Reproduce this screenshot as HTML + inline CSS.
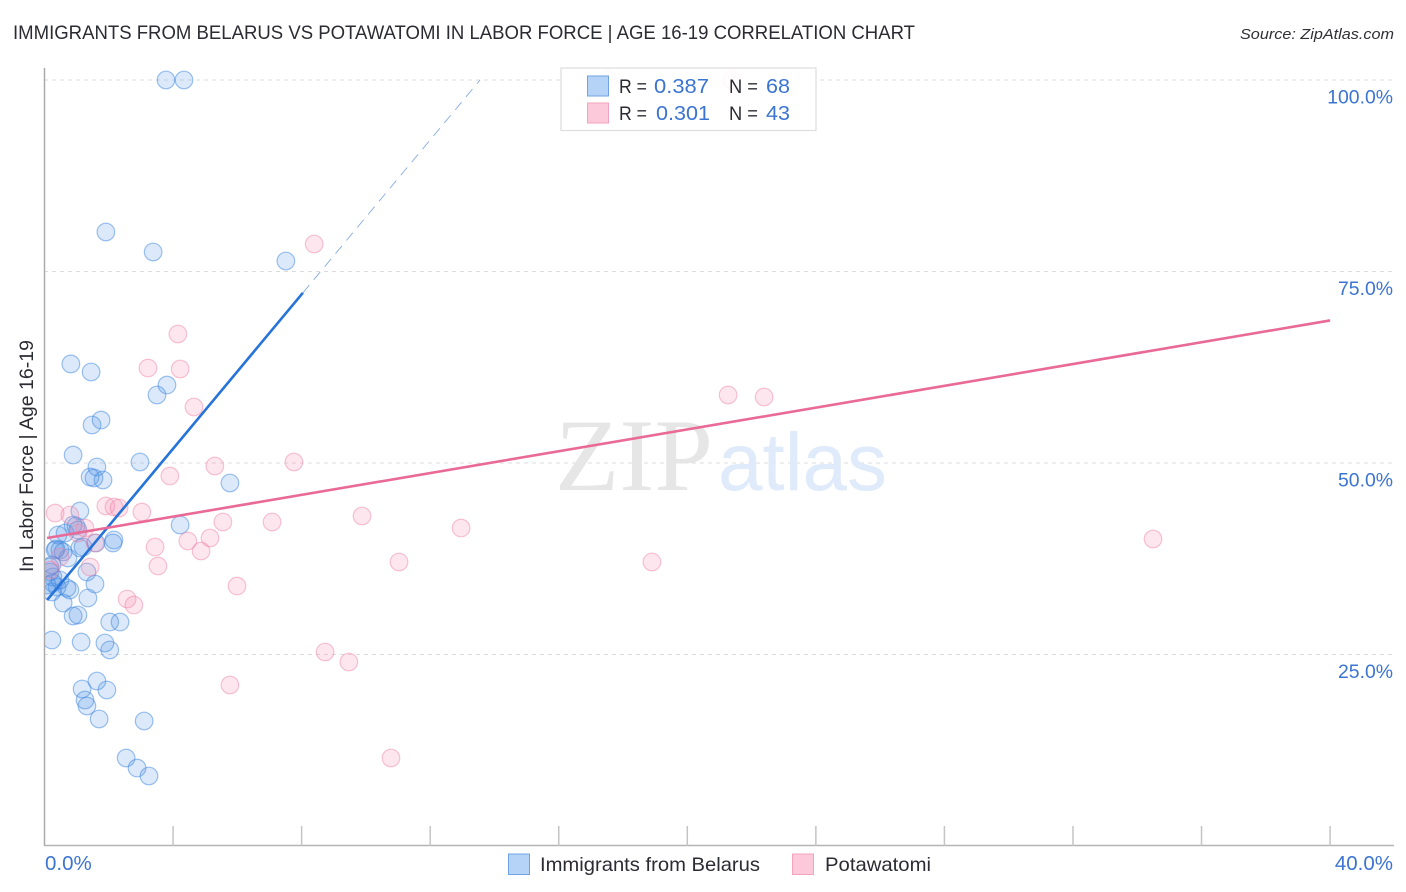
<!DOCTYPE html>
<html lang="en">
<head>
<meta charset="utf-8">
<title>Immigrants from Belarus vs Potawatomi in Labor Force | Age 16-19 Correlation Chart</title>
<style>
html,body{margin:0;padding:0;background:#fff;width:1406px;height:892px;overflow:hidden}
svg{display:block;font-family:"Liberation Sans",sans-serif}
</style>
</head>
<body>
<svg id="chart" xmlns="http://www.w3.org/2000/svg" width="1406" height="892" viewBox="0 0 1406 892">
  <defs>
    <clipPath id="plot-clip"><rect x="44.5" y="60" width="1350" height="786"/></clipPath>
  </defs>
  <text x="13" y="39" font-size="19.5" fill="#2b2b33" textLength="902" lengthAdjust="spacingAndGlyphs">IMMIGRANTS FROM BELARUS VS POTAWATOMI IN LABOR FORCE | AGE 16-19 CORRELATION CHART</text>
  <text x="1394" y="39" font-size="15" font-style="italic" fill="#2f2f37" text-anchor="end" textLength="154" lengthAdjust="spacingAndGlyphs">Source: ZipAtlas.com</text>
  <g id="grid"></g>
  <g>
    <text x="555" y="490" font-family="'Liberation Serif',serif" font-size="103" fill="#e6e6e6" textLength="158" lengthAdjust="spacingAndGlyphs">ZIP</text>
    <text x="718" y="490" font-size="82" fill="#dfeafa" textLength="169" lengthAdjust="spacingAndGlyphs">atlas</text>
  </g>
  <g clip-path="url(#plot-clip)">
    <g id="blue-points"></g>
    <g id="pink-points"></g>
  </g>
  <g id="trends"></g>
  <g id="axes">
    <line x1="44.5" y1="68" x2="44.5" y2="846" stroke="#aaaaaa" stroke-width="1.5"/>
    <line x1="44" y1="845.5" x2="1394" y2="845.5" stroke="#b4b4b4" stroke-width="1.5"/>
  </g>
  <g id="x-ticks"></g>
  <g id="y-labels"></g>
  <g id="x-labels"></g>
  <text transform="translate(33,572) rotate(-90)" font-size="19" fill="#2b2b33" textLength="232" lengthAdjust="spacingAndGlyphs">In Labor Force | Age 16-19</text>

  <g>
    <rect x="561" y="68" width="255" height="62.5" fill="#ffffff" fill-opacity="0.9" stroke="#dddddd" stroke-width="1.2"/>
    <rect x="587.5" y="76" width="21" height="20" fill="#b5d2f7" stroke="#6fa3e3" stroke-width="1"/>
    <rect x="587.5" y="103" width="21" height="20" fill="#fcc9da" stroke="#f3a3bd" stroke-width="1"/>
    <text x="619" y="93" font-size="19" fill="#2b2b33" textLength="28" lengthAdjust="spacingAndGlyphs">R =</text>
    <text x="654" y="93" font-size="20.5" fill="#3b74d1" textLength="55" lengthAdjust="spacingAndGlyphs">0.387</text>
    <text x="729" y="93" font-size="19" fill="#2b2b33" textLength="29" lengthAdjust="spacingAndGlyphs">N =</text>
    <text x="766" y="93" font-size="20.5" fill="#3b74d1" textLength="24" lengthAdjust="spacingAndGlyphs">68</text>
    <text x="619" y="120" font-size="19" fill="#2b2b33" textLength="28" lengthAdjust="spacingAndGlyphs">R =</text>
    <text x="656" y="120" font-size="20.5" fill="#3b74d1" textLength="54" lengthAdjust="spacingAndGlyphs">0.301</text>
    <text x="729" y="120" font-size="19" fill="#2b2b33" textLength="29" lengthAdjust="spacingAndGlyphs">N =</text>
    <text x="766" y="120" font-size="20.5" fill="#3b74d1" textLength="24" lengthAdjust="spacingAndGlyphs">43</text>
  </g>

  <g>
    <rect x="508.5" y="854" width="21" height="20.5" fill="#b5d2f7" stroke="#6fa3e3" stroke-width="1"/>
    <text x="540" y="871" font-size="19.5" fill="#2b2b33" textLength="220" lengthAdjust="spacingAndGlyphs">Immigrants from Belarus</text>
    <rect x="792.5" y="854" width="21" height="20.5" fill="#fcc9da" stroke="#f3a3bd" stroke-width="1"/>
    <text x="825" y="871" font-size="19.5" fill="#2b2b33" textLength="106" lengthAdjust="spacingAndGlyphs">Potawatomi</text>
  </g>
</svg>
<script>
const blueX = [3.78,4.34,1.91,3.38,7.51,0.82,1.45,3.50,3.81,1.48,1.76,0.89,1.63,2.97,1.42,1.54,1.82,5.77,4.22,1.10,0.89,0.98,0.42,0.64,1.04,1.10,0.33,0.48,0.58,0.73,1.60,2.16,2.13,0.17,0.17,0.26,0.26,0.39,0.23,0.70,1.32,1.57,0.79,1.35,0.58,0.89,1.04,2.03,2.35,0.23,1.14,1.88,2.03,1.63,1.17,1.94,1.26,1.32,1.70,3.10,2.54,2.88,3.25,0.36,1.20,0.23,0.48,0.08];
const blueY = [100,100,80.16,77.55,76.37,62.93,61.88,58.88,60.18,54.96,55.61,51.04,49.48,50.13,48.17,48.04,47.78,47.39,41.91,43.73,41.91,41.78,40.60,40.86,41.25,38.90,38.64,38.64,38.38,37.60,39.56,39.95,39.56,36.42,35.77,35.12,34.33,33.81,33.16,33.68,35.77,34.20,33.42,32.38,31.72,30.03,30.16,29.24,29.24,26.89,26.63,26.50,25.59,21.54,20.50,20.37,19.06,18.28,16.58,16.32,11.49,10.18,9.14,38.77,39.03,36.68,34.73,34.07];
const pinkX = [17.53,21.39,8.39,4.15,3.22,4.22,4.65,3.90,5.30,7.76,21.27,22.39,34.49,12.96,9.88,7.08,5.55,3.03,1.91,2.16,2.32,0.33,0.79,1.26,1.04,1.57,0.17,0.48,1.42,3.44,4.46,5.15,4.87,3.53,2.57,2.78,5.99,11.03,18.90,8.73,9.47,5.77,10.78];
const pinkY = [100,100,78.59,66.84,62.40,62.27,57.31,48.30,49.61,50.13,58.88,58.62,40.08,41.51,43.08,42.30,42.30,43.60,44.39,44.26,44.13,43.47,43.21,41.51,40.86,39.56,36.03,37.73,36.42,39.03,39.82,40.21,38.51,36.55,32.25,31.46,33.94,37.08,37.08,25.33,24.02,21.02,11.49];
const blueSlope = 5.04;
const blueIntercept = 31.7;
const blueSolidRange = [0.08, 8.04];
const blueDashEnd = 13.55;
const pinkSlope = 0.7115;
const pinkIntercept = 40.15;
const pinkRange = [0.08, 40];
const yTickValues = [100, 75, 50, 25];
const yTickLabels = ["100.0%", "75.0%", "50.0%", "25.0%"];
const xTickValues = [4, 8, 12, 16, 20, 24, 28, 32, 36, 40];
const xEdgeLabels = ["0.0%", "40.0%"];

const NS = "http://www.w3.org/2000/svg";
const xScale = v => 44.5 + v * 32.14;
const yScale = v => 846 - v * 7.66;

function make(tag, parent, attrs) {
  const el = document.createElementNS(NS, tag);
  for (const k in attrs) el.setAttribute(k, attrs[k]);
  parent.appendChild(el);
  return el;
}

const grid = document.getElementById("grid");
yTickValues.forEach(function (v) {
  const el = make("line", grid, {x1: 44, x2: 1394, y1: yScale(v), y2: yScale(v), stroke: "#dcdcdc", "stroke-width": 1, "stroke-dasharray": "4 4"});
  
  
});

const xTicks = document.getElementById("x-ticks");
xTickValues.forEach(function (v) {
  const el = make("line", xTicks, {x1: xScale(v), x2: xScale(v), y1: 826, y2: 846, stroke: "#c4c4c4", "stroke-width": 1.5});
  
  
});

const yLabels = document.getElementById("y-labels");
yTickValues.forEach(function (v, i) {
  const el = make("text", yLabels, {x: 1393, y: yScale(v) + 23.5, "text-anchor": "end", "font-size": 19.4, fill: "#3b74d1"});
  el.textContent = yTickLabels[i];
  
  
});

const xLabels = document.getElementById("x-labels");
const xLabel0 = make("text", xLabels, {x: 45, y: 870, "font-size": 20.5, fill: "#3b74d1"});
xLabel0.textContent = xEdgeLabels[0];


const xLabel1 = make("text", xLabels, {x: 1393, y: 870, "text-anchor": "end", "font-size": 20.5, fill: "#3b74d1"});
xLabel1.textContent = xEdgeLabels[1];



const bluePoints = document.getElementById("blue-points");
blueX.forEach(function (v, i) {
  const el = make("circle", bluePoints, {cx: xScale(v), cy: yScale(blueY[i]), r: 8.8, fill: "#4a90e8", "fill-opacity": 0.2, stroke: "#3d85dd", "stroke-opacity": 0.5, "stroke-width": 1.2});
  
  
});

const pinkPoints = document.getElementById("pink-points");
pinkX.forEach(function (v, i) {
  const el = make("circle", pinkPoints, {cx: xScale(v), cy: yScale(pinkY[i]), r: 8.8, fill: "#f78fb0", "fill-opacity": 0.22, stroke: "#ee7fa2", "stroke-opacity": 0.45, "stroke-width": 1.2});
  
  
});

const trends = document.getElementById("trends");
const blueAt = x => blueIntercept + blueSlope * x;
const pinkAt = x => pinkIntercept + pinkSlope * x;

const blueDash = make("line", trends, {x1: xScale(blueSolidRange[1]), y1: yScale(blueAt(blueSolidRange[1])), x2: xScale(blueDashEnd), y2: yScale(blueAt(blueDashEnd)), stroke: "#5f90d8", "stroke-opacity": 0.75, "stroke-width": 0.9, "stroke-dasharray": "10 7"});



const blueSolid = make("line", trends, {x1: xScale(blueSolidRange[0]), y1: yScale(blueAt(blueSolidRange[0])), x2: xScale(blueSolidRange[1]), y2: yScale(blueAt(blueSolidRange[1])), stroke: "#2673d9", "stroke-width": 2.6});



const pinkLine = make("line", trends, {x1: xScale(pinkRange[0]), y1: yScale(pinkAt(pinkRange[0])), x2: xScale(pinkRange[1]), y2: yScale(pinkAt(pinkRange[1])), stroke: "#e96a97", "stroke-width": 2.6});


</script>
</body>
</html>
